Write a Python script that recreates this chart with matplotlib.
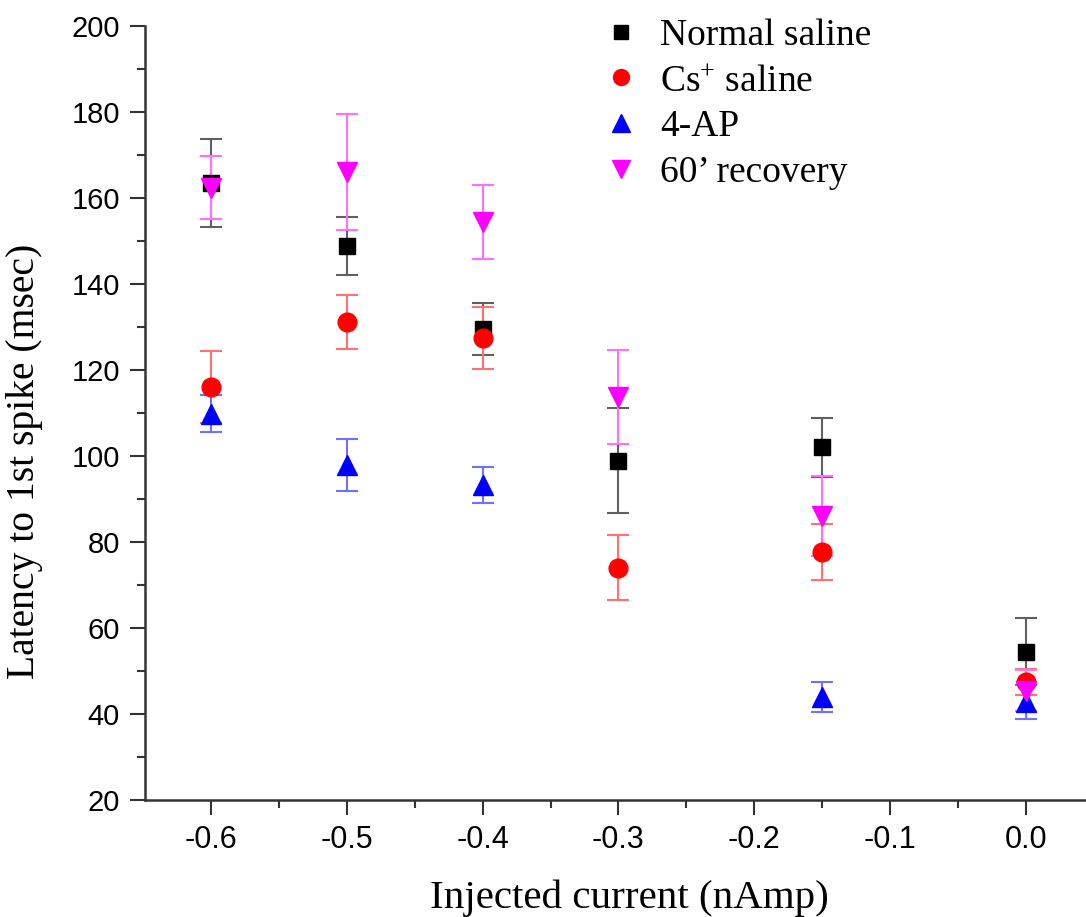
import numpy as np
import matplotlib
matplotlib.use("Agg")
import matplotlib.pyplot as plt
from matplotlib.lines import Line2D
from matplotlib.ticker import MultipleLocator

plt.rcParams['mathtext.fontset'] = 'custom'
plt.rcParams['mathtext.rm'] = 'Liberation Serif'
plt.rcParams['mathtext.it'] = 'Liberation Serif:italic'

# Data
current = [-0.6, -0.5, -0.4, -0.3, -0.15, 0.0]
normal = [163.5, 148.8, 129.5, 98.9, 102.0, 54.5]
normal_err = [10.2, 6.8, 6.0, 12.2, 6.8, 7.8]
cs = [116.0, 131.2, 127.4, 74.0, 77.7, 47.5]
cs_err = [8.4, 6.3, 7.2, 7.6, 6.5, 3.0]
ap4 = [109.8, 97.9, 93.3, np.nan, 44.0, 42.8]
ap4_err = [4.3, 6.0, 4.2, np.nan, 3.5, 4.0]
recov = [162.4, 166.0, 154.5, 113.7, 86.0, 45.4]
recov_err = [7.3, 13.5, 8.6, 11.0, 9.3, 4.8]

labels = ["Normal saline", r"Cs$^{+}$ saline", "4-AP", "60\u2019 recovery"]
colors = ["#000000", "#ff0000", "#0000ff", "#ff00ff"]
ecolors = ["#606060", "#ff7070", "#7070ff", "#ff70ff"]
markers = ["s", "o", "^", "v"]
msizes = [12, 13.5, 15, 15]
series = [(normal, normal_err), (cs, cs_err), (ap4, ap4_err), (recov, recov_err)]

fig = plt.figure(figsize=(10.86, 9.17), dpi=100)
ax = fig.add_axes([145/1086, (917-800)/917, 1 - 145/1086, (800-26)/917])

for (vals, errs), c, ec, m, ms in zip(series, colors, ecolors, markers, msizes):
    ax.errorbar(current, vals, yerr=errs, fmt=m, color=c, mec=c, mfc=c, ms=ms,
                ecolor=ec, elinewidth=1.5, capsize=8, capthick=1.5, zorder=3)

ax.set_xlim(-0.6486, 0.0442)
ax.set_ylim(20, 200)

ax.xaxis.set_major_locator(MultipleLocator(0.1))
ax.xaxis.set_minor_locator(MultipleLocator(0.05))
ax.yaxis.set_major_locator(MultipleLocator(20))
ax.yaxis.set_minor_locator(MultipleLocator(10))
ax.xaxis.set_major_formatter(matplotlib.ticker.FormatStrFormatter('%.1f'))

for s in ['top', 'right']:
    ax.spines[s].set_visible(False)
for s in ['left', 'bottom']:
    ax.spines[s].set_color('#333333')
    ax.spines[s].set_linewidth(1.8)

ax.tick_params(which='major', length=11, width=1.5, color='#333333', pad=7)
ax.tick_params(which='minor', length=6, width=1.5, color='#333333')
ax.tick_params(axis='y', labelsize=21)
ax.tick_params(axis='x', labelsize=22)
for lab in ax.get_yticklabels():
    lab.set_fontfamily('Liberation Sans')
for lab in ax.get_xticklabels():
    lab.set_fontfamily(['Liberation Sans Narrow', 'Liberation Sans'])

ax.set_xlabel("Injected current (nAmp)", fontsize=29.5, family='Liberation Serif')
ax.xaxis.set_label_coords(0.515, -0.103)
ax.set_ylabel("Latency to 1st spike (msec)", fontsize=28.5, family='Liberation Serif')
ax.yaxis.set_label_coords(-0.108, 0.437)

handles = [Line2D([], [], linestyle='none', marker=m, color=c, ms=ms * 0.85)
           for c, m, ms in zip(colors, markers, msizes)]
ax.legend(handles, labels, loc='upper left', bbox_to_anchor=(0.486, 1.01),
          frameon=False, prop={'family': 'Liberation Serif', 'size': 27},
          handlelength=1.0, handletextpad=0.55, labelspacing=0.3,
          borderpad=0, borderaxespad=0)

fig.savefig("out.png", dpi=100)
